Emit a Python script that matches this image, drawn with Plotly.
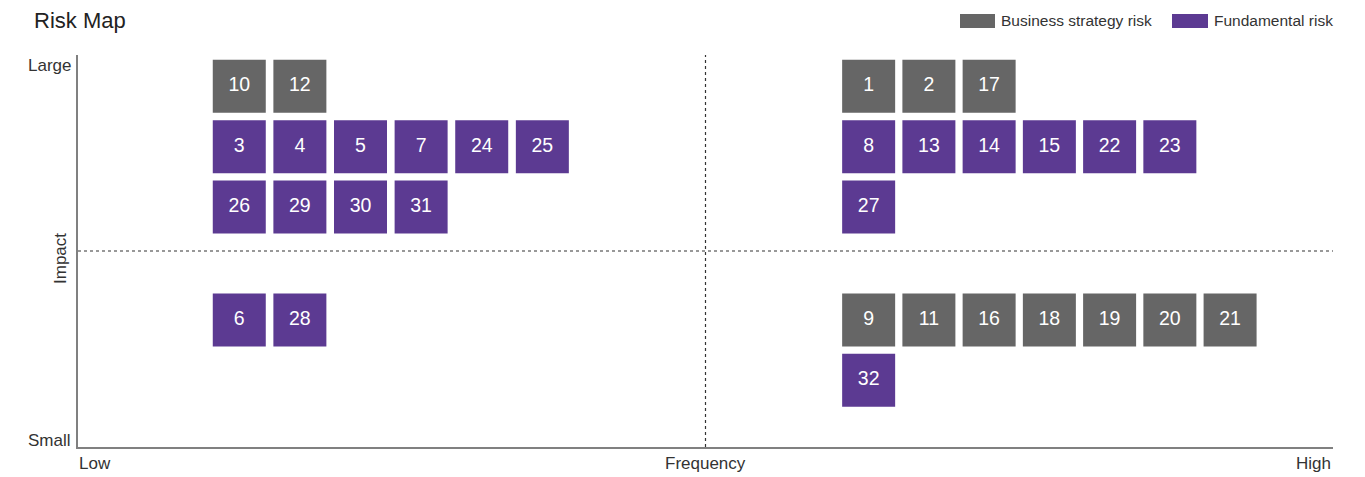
import plotly.graph_objects as go

# risk register: id, type, frequency score (0-100), impact score (0-100)
risk_ids = [10, 12, 1, 2, 17,
            9, 11, 16, 18, 19, 20, 21,
            3, 4, 5, 7, 24, 25,
            26, 29, 30, 31,
            6, 28,
            8, 13, 14, 15, 22, 23,
            27, 32]
risk_type = (["Business strategy risk"] * 12) + (["Fundamental risk"] * 20)
frequency = [12.85, 17.68, 63, 67.8, 72.6,
             63, 67.8, 72.6, 77.4, 82.2, 87, 91.8,
             12.85, 17.68, 22.51, 27.34, 32.17, 37,
             12.85, 17.68, 22.51, 27.34,
             12.85, 17.68,
             63, 67.8, 72.6, 77.4, 82.2, 87,
             63, 63]
impact = [92, 92, 92, 92, 92,
          32.4, 32.4, 32.4, 32.4, 32.4, 32.4, 32.4,
          76.6, 76.6, 76.6, 76.6, 76.6, 76.6,
          61.2, 61.2, 61.2, 61.2,
          32.4, 32.4,
          76.6, 76.6, 76.6, 76.6, 76.6, 76.6,
          61.2, 17]

type_names = ["Business strategy risk", "Fundamental risk"]
type_colors = {"Business strategy risk": "#666666", "Fundamental risk": "#5c3a92"}

FONT = "Liberation Sans"
TEXT = "#333333"

fig = go.Figure()

for t in type_names:
    idx = [i for i, rt in enumerate(risk_type) if rt == t]
    fig.add_trace(go.Scatter(
        x=[frequency[i] for i in idx],
        y=[impact[i] for i in idx],
        text=[str(risk_ids[i]) for i in idx],
        mode="markers+text",
        textposition="middle center",
        textfont=dict(color="white", size=19.5, family=FONT),
        marker=dict(symbol="square", size=53, color=type_colors[t], line=dict(width=0)),
        name=t,
        showlegend=False,
        hoverinfo="text",
    ))

# quadrant dividers
fig.add_shape(type="line", x0=50, x1=50, y0=0, y1=100, xref="x", yref="y",
              line=dict(color="#333333", width=1.2, dash="dot"))
fig.add_shape(type="line", x0=0, x1=100, y0=50, y1=50, xref="x", yref="y",
              line=dict(color="#333333", width=1.2, dash="dot"))

# legend drawn by hand (wide swatches)
legend_items = [("Business strategy risk", 960, 995, 999), ("Fundamental risk", 1172, 1208, 1212)]
for name, sx0, sx1, tx in legend_items:
    fig.add_shape(type="rect", xref="paper", yref="paper",
                  x0=(sx0 - 78) / 1255, x1=(sx1 - 78) / 1255,
                  y0=(447 - 28) / 392, y1=(447 - 14) / 392,
                  fillcolor=type_colors[name], line=dict(width=0))
    fig.add_annotation(text=name, xref="paper", yref="paper",
                       x=(tx - 78) / 1255, y=(447 - 21) / 392,
                       xanchor="left", yanchor="middle", showarrow=False,
                       font=dict(size=15.5, color=TEXT, family=FONT))

# title and axis words
labels = [
    ("Risk Map", (32 - 78) / 1255, (447 - 20) / 392, "left", 22, 0),
    ("Large", (73 - 78) / 1255, (447 - 66) / 392, "right", 17, 0),
    ("Small", (73 - 78) / 1255, (447 - 440) / 392, "right", 17, 0),
    ("Low", (77 - 78) / 1255, (447 - 464) / 392, "left", 17, 0),
    ("High", 1, (447 - 464) / 392, "right", 17, 0),
    ("Frequency", (705 - 78) / 1255, (447 - 464) / 392, "center", 17, 0),
    ("Impact", (60 - 78) / 1255, (447 - 259) / 392, "center", 17, -90),
]
for txt, x, y, xa, sz, ang in labels:
    fig.add_annotation(text=txt, xref="paper", yref="paper", x=x, y=y,
                       xanchor=xa, yanchor="middle", showarrow=False, textangle=ang,
                       font=dict(size=sz, color="#222222" if txt == "Risk Map" else TEXT, family=FONT))

fig.update_xaxes(range=[0, 100], showgrid=False, zeroline=False, showticklabels=False,
                 showline=True, linecolor="#808080", linewidth=2, fixedrange=True)
fig.update_yaxes(range=[0, 100], showgrid=False, zeroline=False, showticklabels=False,
                 showline=True, linecolor="#808080", linewidth=2, fixedrange=True)

fig.update_layout(
    width=1365, height=477,
    margin=dict(l=78, r=32, t=55, b=30),
    plot_bgcolor="white", paper_bgcolor="white",
    font=dict(family=FONT, color=TEXT),
)

# drop the default page margin so the figure sits at the window's top-left
fig.write_html("out.html", config={"displayModeBar": False},
               post_script="document.body.style.margin='0';")
